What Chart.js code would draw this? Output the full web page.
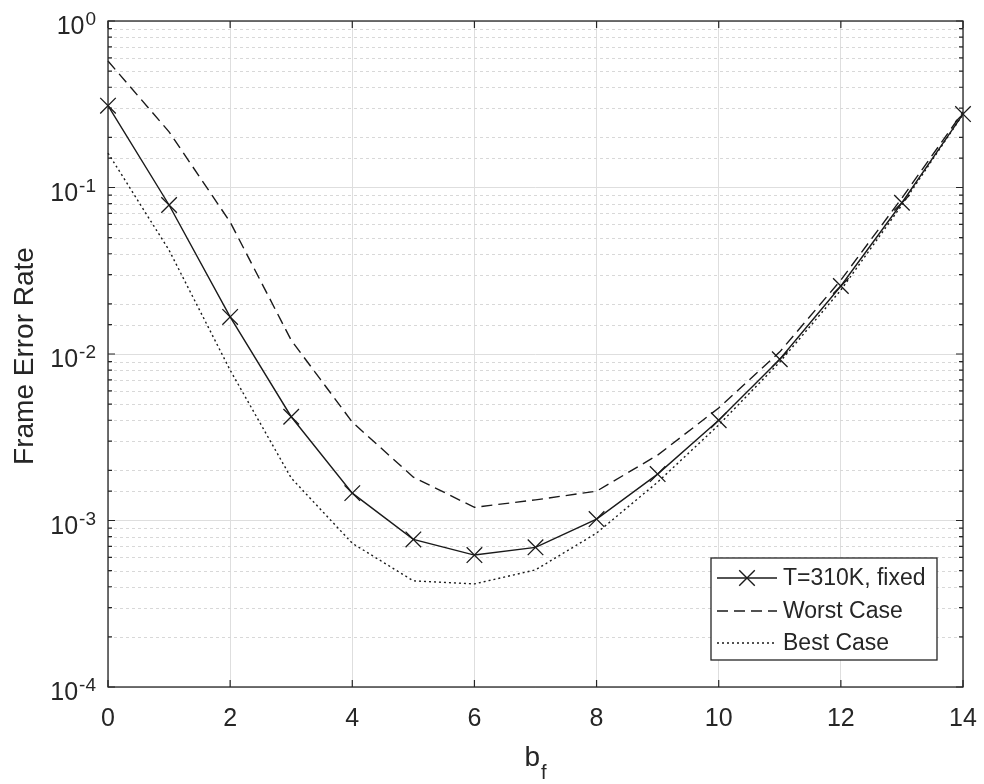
<!DOCTYPE html>
<html>
<head>
<meta charset="utf-8">
<script src="https://cdn.jsdelivr.net/npm/chart.js@4/dist/chart.umd.min.js"></script>
<style>
  html, body { margin: 0; padding: 0; background: #fff; }
  #chart { display: block; }
</style>
</head>
<body>
<canvas id="chart" width="984" height="784"></canvas>
<script>
// values
const bfValues = [0, 1, 2, 3, 4, 5, 6, 7, 8, 9, 10, 11, 12, 13, 14];
const fixedFER = [0.31, 0.0785, 0.0167, 0.0042, 0.00146, 0.00077, 0.00062, 0.00069, 0.00102, 0.0019, 0.0040, 0.0093, 0.0256, 0.081, 0.276];
const worstFER = [0.575, 0.216, 0.062, 0.0121, 0.0039, 0.00182, 0.00120, 0.00133, 0.0015, 0.00247, 0.00474, 0.0103, 0.0278, 0.0865, 0.284];
const bestFER = [0.161, 0.042, 0.008, 0.0018, 0.00073, 0.000434, 0.000416, 0.000505, 0.00084, 0.0017, 0.00375, 0.00895, 0.0242, 0.0785, 0.275];
const seriesLabels = ['T=310K, fixed', 'Worst Case', 'Best Case'];
const xTicks = [0, 2, 4, 6, 8, 10, 12, 14];
const yDecades = [-4, -3, -2, -1, 0];

const FONT = "'Liberation Sans', Arial, sans-serif";
const TEXT = '#262626';
const LINE = '#1a1a1a';
const GRID = '#dedede';

function toPoints(ys) {
  return bfValues.map((x, i) => ({ x: x, y: ys[i] }));
}

function isDecade(v) {
  const l = Math.log10(v);
  return Math.abs(l - Math.round(l)) < 1e-6;
}

// minor grid, box, inward ticks, tick labels and legend, matlab style
const matlabAxes = {
  id: 'matlabAxes',
  beforeDatasetsDraw(chart) {
    const { ctx, chartArea: a, scales: { y } } = chart;
    ctx.save();
    ctx.strokeStyle = '#d8d8d8';
    ctx.lineWidth = 1;
    ctx.setLineDash([3, 3]);
    y.ticks.forEach(t => {
      if (isDecade(t.value)) return;
      const py = Math.round(y.getPixelForValue(t.value)) + 0.5;
      ctx.beginPath();
      ctx.moveTo(a.left, py);
      ctx.lineTo(a.right, py);
      ctx.stroke();
    });
    ctx.restore();
  },
  afterDraw(chart) {
    const { ctx, chartArea: a, scales: { x, y } } = chart;
    ctx.save();
    ctx.strokeStyle = TEXT;
    ctx.lineWidth = 1.3;
    ctx.setLineDash([]);
    ctx.strokeRect(a.left, a.top, a.right - a.left, a.bottom - a.top);

    // inward ticks
    ctx.lineWidth = 1.2;
    ctx.beginPath();
    xTicks.forEach(v => {
      const px = x.getPixelForValue(v);
      ctx.moveTo(px, a.bottom); ctx.lineTo(px, a.bottom - 7);
      ctx.moveTo(px, a.top); ctx.lineTo(px, a.top + 7);
    });
    y.ticks.forEach(t => {
      const py = y.getPixelForValue(t.value);
      const len = isDecade(t.value) ? 7 : 4;
      ctx.moveTo(a.left, py); ctx.lineTo(a.left + len, py);
      ctx.moveTo(a.right, py); ctx.lineTo(a.right - len, py);
    });
    ctx.stroke();

    // y tick labels as 10 with superscript
    ctx.fillStyle = TEXT;
    yDecades.forEach(e => {
      const py = y.getPixelForValue(Math.pow(10, e));
      const exp = String(e);
      ctx.font = '19px ' + FONT;
      ctx.textAlign = 'right';
      ctx.textBaseline = 'alphabetic';
      const ew = ctx.measureText(exp).width;
      ctx.fillText(exp, 96, py + 4);
      ctx.font = '25px ' + FONT;
      ctx.fillText('10', 96 - ew - 1, py + 13);
    });

    // axis titles
    ctx.font = '28px ' + FONT;
    ctx.textAlign = 'center';
    ctx.save();
    ctx.translate(33, (a.top + a.bottom) / 2 + 2);
    ctx.rotate(-Math.PI / 2);
    ctx.fillText('Frame Error Rate', 0, 0);
    ctx.restore();

    const cx = (a.left + a.right) / 2;
    ctx.textAlign = 'left';
    ctx.font = '28px ' + FONT;
    const bw = ctx.measureText('b').width;
    ctx.fillText('b', cx - 11, 766);
    ctx.font = '20px ' + FONT;
    ctx.fillText('f', cx - 11 + bw + 1, 779);

    // legend
    const lx = 711, ly = 558, lw = 226, lh = 102;
    ctx.fillStyle = '#fff';
    ctx.fillRect(lx, ly, lw, lh);
    ctx.strokeStyle = TEXT;
    ctx.lineWidth = 1.3;
    ctx.strokeRect(lx, ly, lw, lh);
    const rows = [578, 611, 643];
    chart.data.datasets.forEach((ds, i) => {
      const ry = rows[i];
      ctx.strokeStyle = LINE;
      ctx.lineWidth = ds.borderWidth;
      ctx.setLineDash(ds.borderDash || []);
      ctx.beginPath();
      ctx.moveTo(717, ry);
      ctx.lineTo(777, ry);
      ctx.stroke();
      ctx.setLineDash([]);
      if (ds.pointRadius > 0) {
        const r = ds.pointRadius * 0.707;
        ctx.beginPath();
        ctx.moveTo(747 - r, ry - r); ctx.lineTo(747 + r, ry + r);
        ctx.moveTo(747 + r, ry - r); ctx.lineTo(747 - r, ry + r);
        ctx.stroke();
      }
      ctx.fillStyle = TEXT;
      ctx.font = '23px ' + FONT;
      ctx.textAlign = 'left';
      ctx.textBaseline = 'middle';
      ctx.fillText(ds.label, 783, ry + 1);
    });
    ctx.restore();
  }
};

new Chart(document.getElementById('chart'), {
  type: 'line',
  data: {
    datasets: [
      {
        label: seriesLabels[0],
        data: toPoints(fixedFER),
        borderColor: LINE,
        borderWidth: 1.4,
        pointStyle: 'crossRot',
        pointRadius: 11,
        pointBorderColor: LINE,
        pointBorderWidth: 1.3,
        clip: false
      },
      {
        label: seriesLabels[1],
        data: toPoints(worstFER),
        borderColor: LINE,
        borderWidth: 1.4,
        borderDash: [11, 6],
        pointRadius: 0,
        clip: false
      },
      {
        label: seriesLabels[2],
        data: toPoints(bestFER),
        borderColor: LINE,
        borderWidth: 1.4,
        borderDash: [2, 3],
        pointRadius: 0,
        clip: false
      }
    ]
  },
  options: {
    responsive: false,
    animation: false,
    layout: { padding: { top: 21, right: 21, left: 0, bottom: 0 } },
    plugins: { legend: { display: false }, tooltip: { enabled: false } },
    scales: {
      x: {
        type: 'linear',
        min: 0,
        max: 14,
        afterBuildTicks: scale => { scale.ticks = xTicks.map(v => ({ value: v })); },
        afterFit: scale => {
          scale.height = 97;
          scale.paddingLeft = 0;
          scale.paddingRight = 0;
        },
        ticks: {
          color: TEXT,
          font: { family: FONT, size: 25 },
          padding: 17,
          maxRotation: 0
        },
        grid: { color: GRID, lineWidth: 1, drawTicks: false },
        border: { display: false }
      },
      y: {
        type: 'logarithmic',
        min: 1e-4,
        max: 1,
        afterFit: scale => { scale.width = 108; },
        ticks: { display: false },
        grid: {
          color: c => (c.tick && isDecade(c.tick.value)) ? GRID : 'rgba(0,0,0,0)',
          lineWidth: 1,
          drawTicks: false
        },
        border: { display: false }
      }
    }
  },
  plugins: [matlabAxes]
});
</script>
</body>
</html>
